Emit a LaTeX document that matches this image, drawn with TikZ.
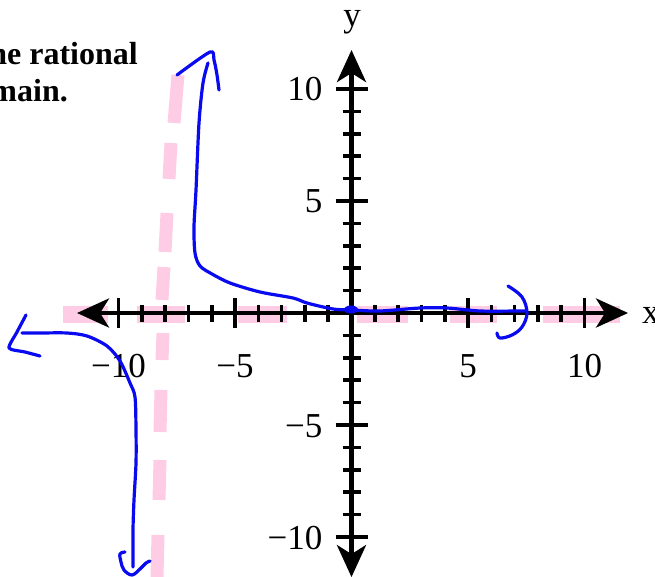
\documentclass[tikz,border=0pt]{standalone}
\usepackage{fontspec}
\setmainfont{Liberation Serif}
\usetikzlibrary{arrows.meta}
\definecolor{asympink}{RGB}{255,204,230}
\definecolor{penblue}{RGB}{10,10,240}
\tikzset{
    axisline/.style={line width=4.5pt, {Stealth[length=32pt, width=29pt, inset=9pt]}-{Stealth[length=32pt, width=29pt, inset=9pt]}},
    tickmark/.style={line width=3.6pt},
    asym/.style={asympink, line width=13pt},
    pen/.style={penblue, line width=3.2pt, line cap=round, line join=round},
    ticklab/.style={font=\fontsize{35}{40}\selectfont, inner sep=0pt},
    titletext/.style={font=\fontsize{32}{38}\selectfont\bfseries, inner sep=0pt},
}
\begin{document}
\begin{tikzpicture}[x=1pt, y=-1pt]
\useasboundingbox (0,0) rectangle (655,577);

% ── Pink asymptotes (dashed by hand) ──
\foreach \xa/\xb in {63/108, 137/185, 238/287, 357/408, 450/497, 543/620}
    \draw[asym, line width=17pt] (\xa,314) -- (\xb,314);
\foreach \xa/\ya/\xb/\yb in {178/75/174/123, 171/143/169/179, 167/213/165/252, 164/267/162/300,
        163/333/162/360, 161/390/160/432, 160/460/159/500, 158/535/157/577}
    \draw[asym] (\xa,\ya) -- (\xb,\yb);

% ── Axes ──
\begin{scope}[shift={(351.5,313)}, x=23.3pt, y=22.4pt]
\draw[axisline] (-11.78,0) -- (11.87,0);
\draw[axisline] (0,-11.79) -- (0,11.74);

% ticks
\foreach \i in {-9,-8,-7,-6,-4,-3,-2,-1,1,2,3,4,6,7,8,9} {
    \draw[tickmark] (\i,0) ++(0pt,-8.5pt) -- ++(0pt,17pt);
    \draw[tickmark] (0,\i) ++(-9pt,0pt) -- ++(18pt,0pt);
}
\foreach \i in {-10,-5,5,10} {
    \draw[tickmark] (\i,0) ++(0pt,-15pt) -- ++(0pt,30pt);
    \draw[tickmark] (0,\i) ++(-16pt,0pt) -- ++(32pt,0pt);
}

% tick labels
\foreach \i/\t in {-10/−10, -5/−5, 5/5, 10/10} {
    \node[ticklab, anchor=base, yshift=-64pt] (xlab\i) at (\i,0) {\t};
    \node[ticklab, anchor=base east, xshift=-29pt, yshift=-12pt] (ylab\i) at (0,\i) {\t};
}
\end{scope}

\node[ticklab, anchor=base west] (xname) at (642,323) {x};
\node[ticklab, anchor=base] (yname) at (352,27) {y};

% ── Question text (cut off) ──
\node[titletext, anchor=base east] (title1) at (138,65) {he rational};
\node[titletext, anchor=base east] (title2) at (68,102) {main.};

% ── Hand-drawn graph ──
% right branch
\draw[pen] plot[smooth, tension=0.5] coordinates {(208,63) (203,83) (199,123) (196,190) (194,227)
    (195,253) (200,266) (212,274) (230,283) (260,292) (293,298) (307,303) (333,309) (352,310)
    (380,311) (420,308) (447,308) (480,311) (520,311) (525,311)};
\draw[pen] plot[smooth, tension=0.5] coordinates {(177,75) (210,52) (214,60) (217,75) (219,90)};
\draw[pen] plot[smooth, tension=0.6] coordinates {(508,286) (522,297) (527,313) (522,327) (512,335) (500,338) (497,333)};
\fill[penblue] (351,309.5) ellipse [x radius=7, y radius=4];

% left branch
\draw[pen] plot[smooth, tension=0.5] coordinates {(22,333) (40,333) (67,333) (87,336) (107,346)
    (120,361) (130,383) (135,397) (136,430) (136,463) (134,500) (133,530) (133,567)};
\draw[pen] plot[smooth, tension=0.4] coordinates {(26,315) (17,332) (9,348) (25,352) (40,356)};
\draw[pen] plot[smooth, tension=0.6] coordinates {(125,552) (120,554) (121,562) (124,570) (132,575)
    (140,569) (146,563) (150,561)};

\end{tikzpicture}
\end{document}
